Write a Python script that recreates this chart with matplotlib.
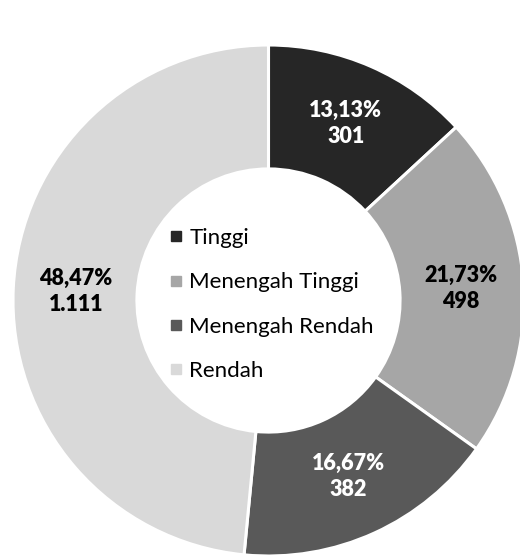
import matplotlib
matplotlib.use("Agg")
import matplotlib.pyplot as plt
from matplotlib.lines import Line2D

categories = ["Tinggi", "Menengah Tinggi", "Menengah Rendah", "Rendah"]
values = [301, 498, 382, 1111]
percent_labels = ["13,13%", "21,73%", "16,67%", "48,47%"]
value_labels = ["301", "498", "382", "1.111"]
colors = ["#262626", "#a6a6a6", "#595959", "#d9d9d9"]
text_colors = ["white", "black", "white", "black"]

plt.rcParams['font.family'] = ['Lato', 'DejaVu Sans']

fig = plt.figure(figsize=(5.2, 5.55), dpi=100)
ax = fig.add_axes([0, 0, 1, 1])

labels_iter = iter([f"{p}\n{v}" for p, v in zip(percent_labels, value_labels)])

cx, cy, R = 268.5, 254.5, 255.5
wedges, _, autotexts = ax.pie(
    values, colors=colors, startangle=90, counterclock=False,
    center=(cx, cy), radius=R,
    autopct=lambda p: next(labels_iter), pctdistance=0.755,
    wedgeprops=dict(width=R * 0.485, edgecolor="white", linewidth=2.2),
    textprops=dict(fontsize=15.5, fontweight="heavy"),
)
for t, c in zip(autotexts, text_colors):
    t.set_color(c)
    t.set_linespacing(1.3)

ax.set_xlim(0, 520)
ax.set_ylim(0, 555)
ax.set_aspect("equal")
ax.axis("off")

handles = [Line2D([], [], marker="s", linestyle="none", markersize=6.5,
                  markerfacecolor=c, markeredgecolor=c) for c in colors]
leg = ax.legend(handles, categories, loc="center",
                bbox_to_anchor=(cx + 3, cy - 4), bbox_transform=ax.transData,
                frameon=False, fontsize=16, labelspacing=1.1,
                handlelength=0.6, handletextpad=0.3, borderpad=0)

fig.savefig("out.png", dpi=100)
